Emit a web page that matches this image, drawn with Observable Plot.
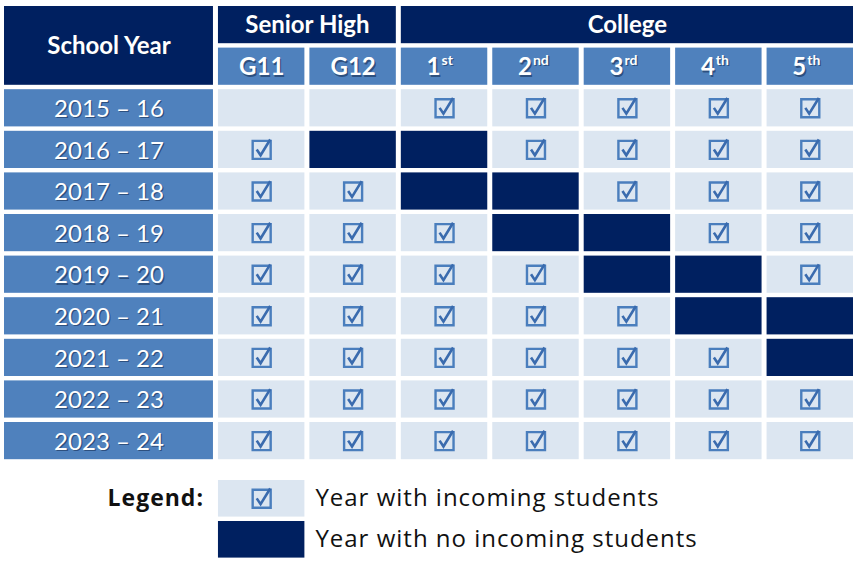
<!DOCTYPE html>
<html><head><meta charset="utf-8">
<script src="https://cdn.jsdelivr.net/npm/d3@7"></script>
<script src="https://cdn.jsdelivr.net/npm/@observablehq/plot@0.6"></script>
<style>
body{margin:0;background:#fff;}
#chart svg{display:block;}
#legendwrap text{letter-spacing:1px;}
</style></head><body><div id="chart"></div><div id="legendwrap"></div>
<script>
// ---- data ----
const cornerLabel = "School Year";
const years = ["2015 – 16","2016 – 17","2017 – 18","2018 – 19","2019 – 20","2020 – 21","2021 – 22","2022 – 23","2023 – 24"];
const grades = ["G11","G12","1st","2nd","3rd","4th","5th"];
const groupNames = ["Senior High","College"];
const groupFirst = [0, 2];   // first grade index of each group
const groupLast = [1, 6];    // last grade index of each group
// Y = year with incoming students, N = no incoming students, - = not applicable
const status = ["--YYYYY","YNNYYYY","YYNNYYY","YYYNNYY","YYYYNNY","YYYYYNN","YYYYYYN","YYYYYYY","YYYYYYY"];
const legendTitle = "Legend:";
const legendKeys = ["Y","N"];
const legendLabels = ["Year with incoming students","Year with no incoming students"];

// ---- style / layout ----
const NAVY = "#002060", MID = "#4F81BD", LIGHT = "#DCE6F1", CHECK = "#4A7EBD", CHECK2 = "#3A6BAE";
const YEAR_COL = 2.34;
const xCfg = {domain: [-YEAR_COL, grades.length], range: [1.5, 855.5]};
const INS = {insetLeft: 2.5, insetRight: 2.5, insetTop: 2.2, insetBottom: 2.2};
const FONT = "Lato, 'Open Sans', sans-serif";

const box = {draw(ctx, size){ const r = Math.sqrt(size/Math.PI);
  ctx.moveTo(-r,-r); ctx.lineTo(r,-r); ctx.lineTo(r,r); ctx.lineTo(-r,r); ctx.closePath(); }};
const tick = {draw(ctx, size){ const r = Math.sqrt(size/Math.PI);
  ctx.moveTo(-0.55*r,-0.05*r); ctx.lineTo(-0.12*r,0.6*r); ctx.lineTo(0.95*r,-1.15*r); }};

function shadowText(data, o){
  return [
    Plot.text(data, {...o, fill:"#10254a", fillOpacity:0.55, dx:(o.dx||0)+1.3, dy:(o.dy||0)+1.3}),
    Plot.text(data, {...o, fill:"white"})
  ];
}
function checks(data, o){
  return [
    Plot.dot(data, {...o, r:9, symbol: box, fill:"none", stroke: CHECK, strokeWidth:2.4}),
    Plot.dot(data, {...o, r:9, symbol: tick, fill:"none", stroke: CHECK2, strokeWidth:2.6, strokeLinejoin:"miter"})
  ];
}

// ---- tables built from data ----
const H = 2; // header rows
const corner = [{x1:-YEAR_COL, x2:0, y1:0, y2:H, label: cornerLabel}];
const groups = groupNames.map((g,i)=>({x1:groupFirst[i], x2:groupLast[i]+1, y1:0, y2:1, label:g}));
const subs = grades.map((g,j)=>{ const m = g.match(/^(\d)(st|nd|rd|th)$/);
  return {x1:j, x2:j+1, y1:1, y2:2, base: m ? m[1] : g, sup: m ? m[2] : "", hasSup: !!m}; });
const rowCells = years.map((y,i)=>({x1:-YEAR_COL, x2:0, y1:i+H, y2:i+H+1, label:y}));
const cells = years.flatMap((y,i)=>grades.map((g,j)=>({x1:j, x2:j+1, y1:i+H, y2:i+H+1, s: status[i][j]})));
const cx = d => (d.x1+d.x2)/2, cy = d => (d.y1+d.y2)/2;

const main = Plot.plot({
  width: 860, height: 466, margin: 0,
  x: {...xCfg, axis: null},
  y: {domain: [0, years.length + H], range: [3.8, 461.4], axis: null},
  style: {fontFamily: FONT},
  marks: [
    Plot.rect(corner, {x1:"x1", x2:"x2", y1:"y1", y2:"y2", fill: NAVY, ...INS}),
    Plot.rect(groups, {x1:"x1", x2:"x2", y1:"y1", y2:"y2", fill: NAVY, ...INS}),
    Plot.rect(subs, {x1:"x1", x2:"x2", y1:"y1", y2:"y2", fill: MID, ...INS}),
    Plot.rect(rowCells, {x1:"x1", x2:"x2", y1:"y1", y2:"y2", fill: MID, ...INS}),
    Plot.rect(cells, {x1:"x1", x2:"x2", y1:"y1", y2:"y2", fill: d => d.s === "N" ? NAVY : LIGHT, ...INS}),
    ...shadowText(corner, {x: cx, y: cy, text: "label", fontSize: 24, fontWeight: "bold"}),
    ...shadowText(groups, {x: cx, y: cy, text: "label", fontSize: 24, fontWeight: "bold"}),
    ...shadowText(subs.filter(d=>!d.hasSup), {x: cx, y: cy, text: "base", fontSize: 24, fontWeight: "bold", dy: 1}),
    ...shadowText(subs.filter(d=>d.hasSup), {x: cx, y: cy, text: "base", fontSize: 24, fontWeight: "bold", dy: 1, dx: -4, textAnchor: "end"}),
    ...shadowText(subs.filter(d=>d.hasSup), {x: cx, y: cy, text: "sup", fontSize: 14, fontWeight: "bold", dy: -6, dx: -3, textAnchor: "start"}),
    ...shadowText(rowCells, {x: cx, y: cy, text: "label", fontSize: 24, dy: 1}),
    ...checks(cells.filter(d=>d.s === "Y"), {x: cx, y: cy})
  ]
});

const legendData = legendKeys.map((k,i)=>({x1:0, x2:1, y1:i, y2:i+1, s:k, label: legendLabels[i]}));
const legend = Plot.plot({
  width: 860, height: 102, margin: 0,
  x: {...xCfg, axis: null},
  y: {domain: [0, legendKeys.length], range: [11.8, 93.8], axis: null},
  style: {fontFamily: FONT},
  marks: [
    Plot.rect(legendData, {x1:"x1", x2:"x2", y1:"y1", y2:"y2", fill: d => d.s === "N" ? NAVY : LIGHT, ...INS}),
    ...checks(legendData.filter(d=>d.s === "Y"), {x: cx, y: cy}),
    Plot.text(legendData, {x: "x2", y: cy, text: "label", textAnchor: "start", dx: 8, fontSize: 24, fill: "#111", fontFamily: "'Open Sans', sans-serif"}),
    Plot.text([legendData[0]], {x: "x1", y: cy, text: () => legendTitle, textAnchor: "end", dx: -12, fontSize: 23, fontWeight: "bold", fill: "#111", fontFamily: "'Open Sans', sans-serif"})
  ]
});
document.getElementById("chart").append(main);
document.getElementById("legendwrap").append(legend);
</script></body></html>
